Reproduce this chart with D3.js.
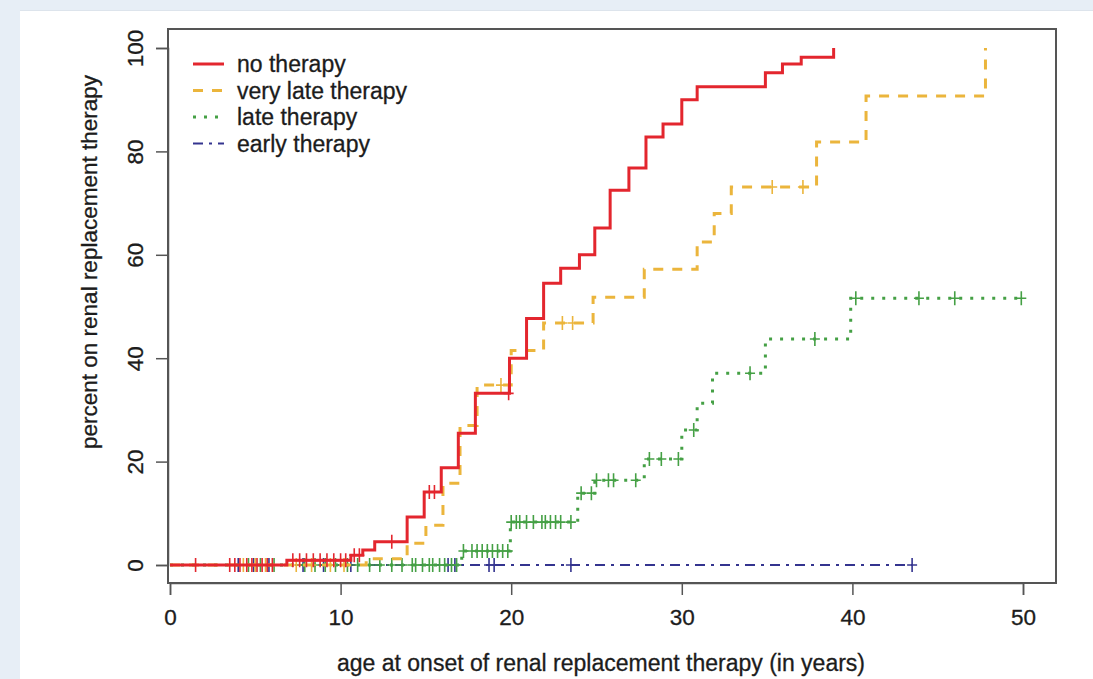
<!DOCTYPE html>
<html lang="en">
<head>
<meta charset="UTF-8">
<title>Renal replacement therapy</title>
<script src="https://d3js.org/d3.v7.min.js"></script>
<style>
    body{ margin:0; padding:0; background:#e7eef6; }
    svg{ display:block; font-family:"Liberation Sans", Arial, sans-serif; }
    text{ fill:#1c1c1c; stroke:#1c1c1c; stroke-width:0.3px; }
</style>
</head>
<body>
<svg id="chart"></svg>
<script>
// step data: [age, percent] (percent after the step)
let noTherapySteps = [[0,0],[6.85,0.9],[10.6,1.9],[11.3,2.9],[12.0,4.5],[13.9,9.3],[14.9,14.1],[15.9,18.8],[16.9,25.5],[17.9,33.2],[19.9,40],[20.9,47.7],[21.9,54.5],[22.9,57.4],[24.0,60],[24.9,65.2],[25.8,72.5],[26.9,76.8],[27.9,82.8],[28.9,85.3],[30.0,90],[30.9,92.5],[34.9,95.2],[35.9,96.9],[37.0,98.2],[38.9,100]]
let noTherapyEnd = 38.9
let noTherapyCensor = [1.5,3.5,3.8,4.1,4.5,4.8,5.1,5.4,5.7,6.0,7.2,7.6,8.0,8.4,8.8,9.2,9.6,10.0,10.3,10.8,11.1,13.0,15.2,15.5,19.85]

let veryLateSteps = [[0,0],[11.5,1.2],[13.9,4.2],[15.0,7.7],[16.0,15.8],[17.0,27],[18.0,34.8],[20.0,41.5],[21.9,46.8],[24.8,51.8],[27.8,57.2],[30.9,62.5],[31.9,68],[32.9,73.1],[37.9,81.8],[40.8,90.7],[47.8,100]]
let veryLateEnd = 47.8
let veryLateCensor = [4.3,5.0,5.6,7.4,8.3,9.4,10.2,19.4,23.0,23.6,35.3,37.1]

let lateSteps = [[0,0],[17.1,2.7],[19.95,8.3],[23.9,13.9],[24.9,16.4],[27.8,20.5],[30.0,26.1],[30.9,31.3],[31.8,37.1],[34.9,43.7],[39.9,51.6]]
let lateEnd = 50.0
let lateCensor = [4.6,5.3,6.1,7.9,8.5,9.1,9.7,10.4,11.0,11.7,12.3,13.0,13.6,14.2,14.4,14.8,15.2,15.4,15.8,16.1,16.5,16.8,
    17.2,17.7,18.0,18.3,18.6,18.9,19.2,19.5,19.8,20.0,20.3,20.5,20.9,21.3,21.8,22.0,22.3,22.6,22.9,23.5,
    24.1,24.7,25.0,25.7,26.0,27.3,28.1,28.8,29.8,30.7,34.0,37.8,40.2,43.9,46.0,49.9]

let earlySteps = [[0,0]]
let earlyEnd = 43.5
let earlyCensor = [4.0,4.9,5.8,7.8,9.0,10.6,16.3,16.7,18.7,19.0,23.5,43.5]

let xTicks = [0,10,20,30,40,50]
let yTicks = [0,20,40,60,80,100]
let legendLabels = ["no therapy","very late therapy","late therapy","early therapy"]

let W = 1093, H = 679
let box = {left:168, right:1056, top:29, bottom:583}

let svg = d3.select("#chart").attr("width", W).attr("height", H)

svg.append("rect").attr("width", W).attr("height", H).attr("fill", "#e7eef6")
svg.append("rect").attr("x", 20).attr("y", 10).attr("width", W-20).attr("height", H-10)
    .attr("fill", "#ffffff")
svg.append("line").attr("x1", 20).attr("x2", W).attr("y1", 10.5).attr("y2", 10.5)
    .attr("stroke", "#dde4ec")

let x = d3.scaleLinear().domain([0, 50]).range([170, 1023])
let y = d3.scaleLinear().domain([0, 100]).range([565, 48])

let series = [
    {name:legendLabels[3], steps:earlySteps, end:earlyEnd, censor:earlyCensor, color:"#34348f", dash:"10,6,3,6", w:2.2},
    {name:legendLabels[2], steps:lateSteps, end:lateEnd, censor:lateCensor, color:"#45a045", dash:"3,8", w:3},
    {name:legendLabels[1], steps:veryLateSteps, end:veryLateEnd, censor:veryLateCensor, color:"#ebb53c", dash:"10,9", w:3},
    {name:legendLabels[0], steps:noTherapySteps, end:noTherapyEnd, censor:noTherapyCensor, color:"#e3262e", dash:null, w:3}
]

function valueAt(steps, t) {
    let v = 0
    steps.forEach(s => { if (t >= s[0]) v = s[1] })
    return v
}

let line = d3.line().x(d => x(d[0])).y(d => y(d[1])).curve(d3.curveStepAfter)

series.forEach(s => {
    let pts = s.steps.concat([[s.end, s.steps[s.steps.length-1][1]]])
    svg.append("path")
        .attr("d", line(pts))
        .attr("fill", "none")
        .attr("stroke", s.color)
        .attr("stroke-width", s.w)
        .attr("stroke-dasharray", s.dash)

    svg.append("g").selectAll("path")
        .data(s.censor)
        .enter().append("path")
        .attr("d", t => {
            let cx = x(t), cy = y(valueAt(s.steps, t))
            return `M${cx-5},${cy}H${cx+5}M${cx},${cy-7}V${cy+7}`
        })
        .attr("stroke", s.color)
        .attr("stroke-width", 1.6)
})

// box
svg.append("rect")
    .attr("x", box.left).attr("y", box.top)
    .attr("width", box.right-box.left).attr("height", box.bottom-box.top)
    .attr("fill", "none").attr("stroke", "#555").attr("stroke-width", 2)

// axes
let xAxis = svg.append("g")
    .attr("transform", `translate(0,${box.bottom})`)
    .call(d3.axisBottom(x).tickValues(xTicks).tickSize(12).tickPadding(14))
xAxis.select(".domain").attr("stroke", "#555").attr("stroke-width", 1.5)
xAxis.selectAll(".tick line").attr("stroke", "#555").attr("stroke-width", 1.5)
xAxis.selectAll("text").attr("font-size", 22.5).attr("font-family", "Liberation Sans, Arial")

let yAxis = svg.append("g")
    .attr("transform", `translate(${box.left},0)`)
    .call(d3.axisLeft(y).tickValues(yTicks).tickSize(12))
yAxis.select(".domain").attr("stroke", "#555").attr("stroke-width", 1.5)
yAxis.selectAll(".tick line").attr("stroke", "#555").attr("stroke-width", 1.5)
yAxis.selectAll("text")
    .attr("font-size", 22.5).attr("font-family", "Liberation Sans, Arial")
    .attr("text-anchor", "middle")
    .attr("x", 0).attr("y", -33).attr("dy", "0.35em")
    .attr("transform", "rotate(-90)")

svg.append("text")
    .attr("transform", "translate(97,262) rotate(-90)")
    .attr("text-anchor", "middle")
    .attr("font-size", 22.5)
    .text("percent on renal replacement therapy")

svg.append("text")
    .attr("x", 601).attr("y", 671)
    .attr("text-anchor", "middle")
    .attr("font-size", 23)
    .text("age at onset of renal replacement therapy (in years)")

// legend
let legendOrder = series.slice().reverse()
let leg = svg.append("g")
legendOrder.forEach((s, i) => {
    let ly = 64 + i*26.5
    leg.append("line")
        .attr("x1", 193).attr("x2", 224).attr("y1", ly).attr("y2", ly)
        .attr("stroke", s.color).attr("stroke-width", s.w)
        .attr("stroke-dasharray", s.dash)
    leg.append("text")
        .attr("x", 237).attr("y", ly).attr("dy", "0.35em")
        .attr("font-size", 23)
        .text(s.name)
})
</script>
</body>
</html>
